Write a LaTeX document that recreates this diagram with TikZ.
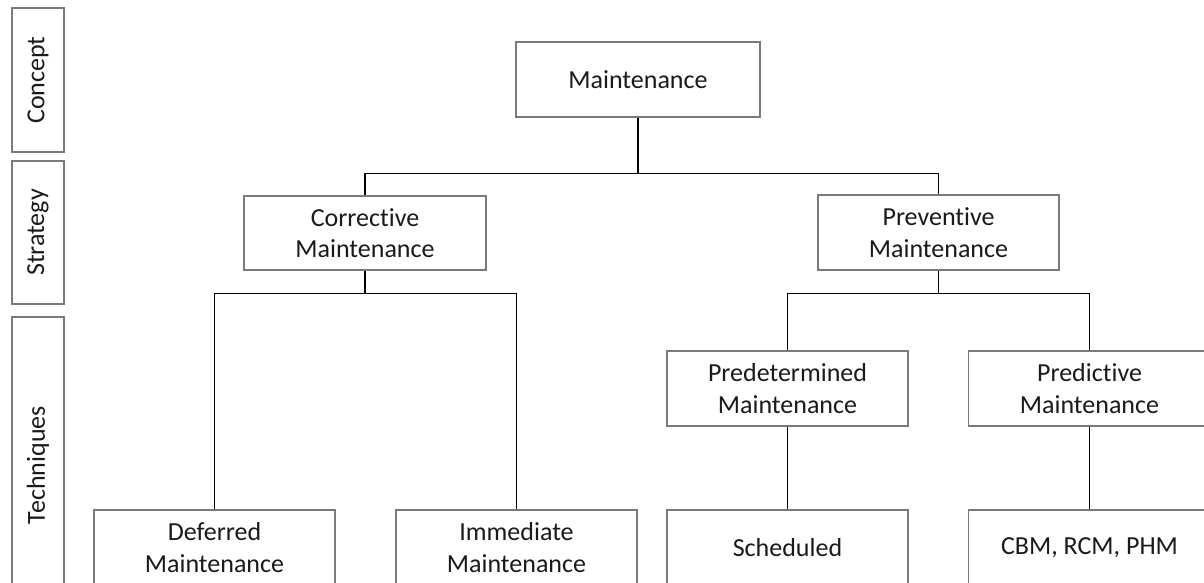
\documentclass[tikz,border=0pt]{standalone}
\usepackage{fontspec}
\setmainfont{Carlito}[Ligatures=NoCommon]
\usetikzlibrary{positioning,calc}
\definecolor{boxgray}{HTML}{7A7A7A}
\definecolor{txt}{HTML}{1A1A1A}
\tikzset{
  box/.style={draw=boxgray, line width=1.1pt, rectangle, align=center, text=txt,
    minimum width=242pt, minimum height=75pt, inner sep=0pt,
    font=\fontsize{26}{31.5}\selectfont},
  lab/.style={box, rotate=90, minimum height=52pt},
  conn/.style={draw=black, line width=1.8pt}
}
\begin{document}
\begin{tikzpicture}[x=1pt,y=-1pt]
\clip (0,0) rectangle (1204,582);
\fill[white] (0,0) rectangle (1204,582);
% level labels
\node[lab, minimum width=144pt] (concept) at (38,80) {Concept};
\node[lab, minimum width=143pt] (strategy) at (38,232.5) {Strategy};
\node[lab, minimum width=296pt] (techniques) at (38,465) {Techniques};
% tree nodes
\node[box, minimum width=244pt] (maint) at (638,79.5) {Maintenance};
\node[box, minimum height=74pt] (corr) at (365,233) {Corrective\\Maintenance};
\node[box, minimum width=241pt] (prev) at (938.5,232.5) {Preventive\\Maintenance};
\node[box, minimum width=241pt] (pred) at (787.5,388.5) {Predetermined\\Maintenance};
\node[box] (predic) at (1089.5,388.5) {Predictive\\Maintenance};
\node[box, minimum width=241pt] (defer) at (214.5,547.5) {Deferred\\Maintenance};
\node[box, minimum width=241pt] (immed) at (516.5,547.5) {Immediate\\Maintenance};
\node[box, minimum width=241pt] (sched) at (787.5,547.5) {Scheduled};
\node[box] (cbm) at (1089.5,547.5) {CBM, RCM, PHM};
% connectors
\coordinate (j1) at ($(maint.south)+(0,56)$);
\coordinate (j2) at ($(corr.south)+(0,23)$);
\coordinate (j3) at ($(prev.south)+(0,23)$);
\draw[conn] (maint.south) -- (j1);
\draw[conn] (j1) -| (corr.north);
\draw[conn] (j1) -| (prev.north);
\draw[conn] (corr.south) -- (j2);
\draw[conn] (j2) -| (defer.north);
\draw[conn] (j2) -| (immed.north);
\draw[conn] (prev.south) -- (j3);
\draw[conn] (j3) -| (pred.north);
\draw[conn] (j3) -| (predic.north);
\draw[conn] (pred.south) -- (sched.north);
\draw[conn] (predic.south) -- (cbm.north);
\end{tikzpicture}
\end{document}
